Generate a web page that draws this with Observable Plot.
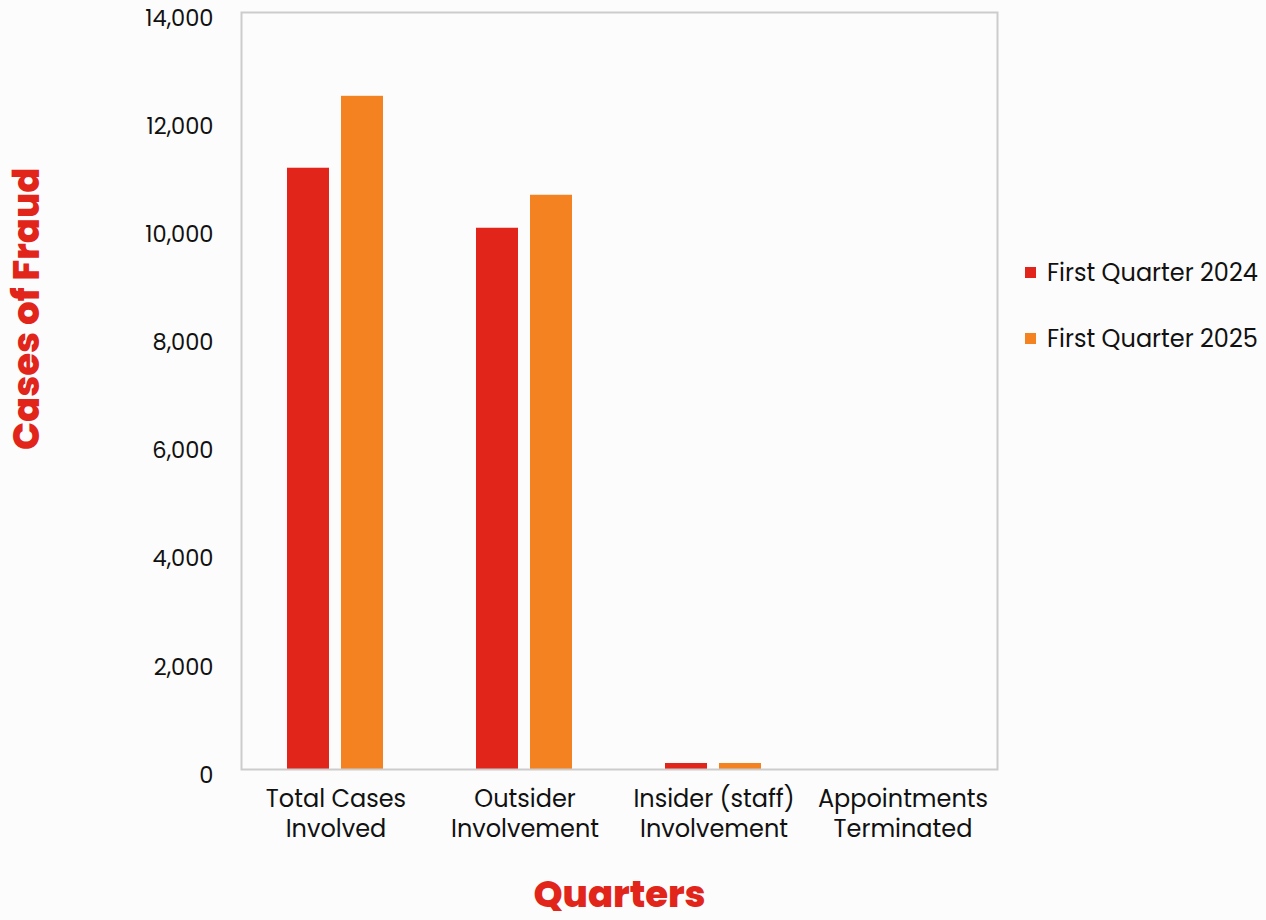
<!DOCTYPE html>
<html>
<head>
<meta charset="utf-8">
<script src="https://cdn.jsdelivr.net/npm/d3@7"></script>
<script src="https://cdn.jsdelivr.net/npm/@observablehq/plot@0.6"></script>
<style>
  html, body { margin: 0; padding: 0; background: #fcfcfc; }
  #wrap { position: relative; width: 1266px; height: 920px; overflow: hidden; font-family: Poppins, "Open Sans", sans-serif; }
  #legend { position: absolute; left: 1025px; top: 255px; font-size: 24px; color: #111; }
  #legend .row { display: flex; align-items: center; height: 34px; margin-bottom: 32px; white-space: nowrap; }
  #legend .sw { width: 11px; height: 11px; margin-right: 11px; }
</style>
</head>
<body>
<div id="wrap">
  <div id="chart"></div>
  <div id="legend"></div>
</div>
<script>
// Fraud cases by category, first quarter 2024 vs first quarter 2025
const categories = [
  "Total Cases\nInvolved",
  "Outsider\nInvolvement",
  "Insider (staff)\nInvolvement",
  "Appointments\nTerminated"
];
const series = ["First Quarter 2024", "First Quarter 2025"];
const q1_2024 = [11120, 10010, 111, 0];
const q1_2025 = [12450, 10620, 111, 0];
const seriesColors = ["#E1251B", "#F58220"];
const yTicks = [0, 2000, 4000, 6000, 8000, 10000, 12000, 14000];
const yTitle = "Cases of Fraud";
const xTitle = "Quarters";

const rows = [];
categories.forEach((c, i) => {
  rows.push({category: c, series: series[0], value: q1_2024[i]});
  rows.push({category: c, series: series[1], value: q1_2025[i]});
});

const font = 'Poppins, "Open Sans", sans-serif';

const chart = Plot.plot({
  width: 1266,
  height: 920,
  marginLeft: 241,
  marginRight: 269,
  marginTop: 12,
  marginBottom: 151,
  style: {background: "transparent", fontFamily: font, fontSize: "22.5px", color: "#111", overflow: "visible"},
  fx: {domain: categories, paddingInner: 0, paddingOuter: 0, label: null},
  x: {domain: series, paddingInner: 0.2222, paddingOuter: 0.861, axis: null},
  y: {domain: [0, 14000], label: null},
  color: {domain: series, range: seriesColors},
  marks: [
    Plot.barY(rows, {fx: "category", x: "series", y: "value", fill: "series"}),
    Plot.axisY({ticks: yTicks, tickFormat: d3.format(","), tickSize: 0, tickPadding: 28, fontSize: 22.5, dy: 6, label: null}),
    Plot.axisFx({anchor: "bottom", tickSize: 0, tickPadding: 17, fontSize: 24, lineHeight: 1.22, label: null}),
    Plot.frame({facet: "super", stroke: "#cccccc", strokeWidth: 2}),
    Plot.text([yTitle], {
      facet: "super", text: d => d, frameAnchor: "left", rotate: -90,
      dx: -214, dy: 59, fill: "#E1251B", fontSize: 37, fontWeight: 800
    }),
    Plot.text([xTitle], {
      facet: "super", text: d => d, frameAnchor: "bottom",
      dy: 137, fill: "#E1251B", fontSize: 37, fontWeight: 800
    })
  ]
});
document.getElementById("chart").appendChild(chart);

// legend
const legend = document.getElementById("legend");
series.forEach((s, i) => {
  const row = document.createElement("div");
  row.className = "row";
  const sw = document.createElement("span");
  sw.className = "sw";
  sw.style.background = seriesColors[i];
  const t = document.createElement("span");
  t.textContent = s;
  row.appendChild(sw);
  row.appendChild(t);
  legend.appendChild(row);
});
</script>
</body>
</html>
